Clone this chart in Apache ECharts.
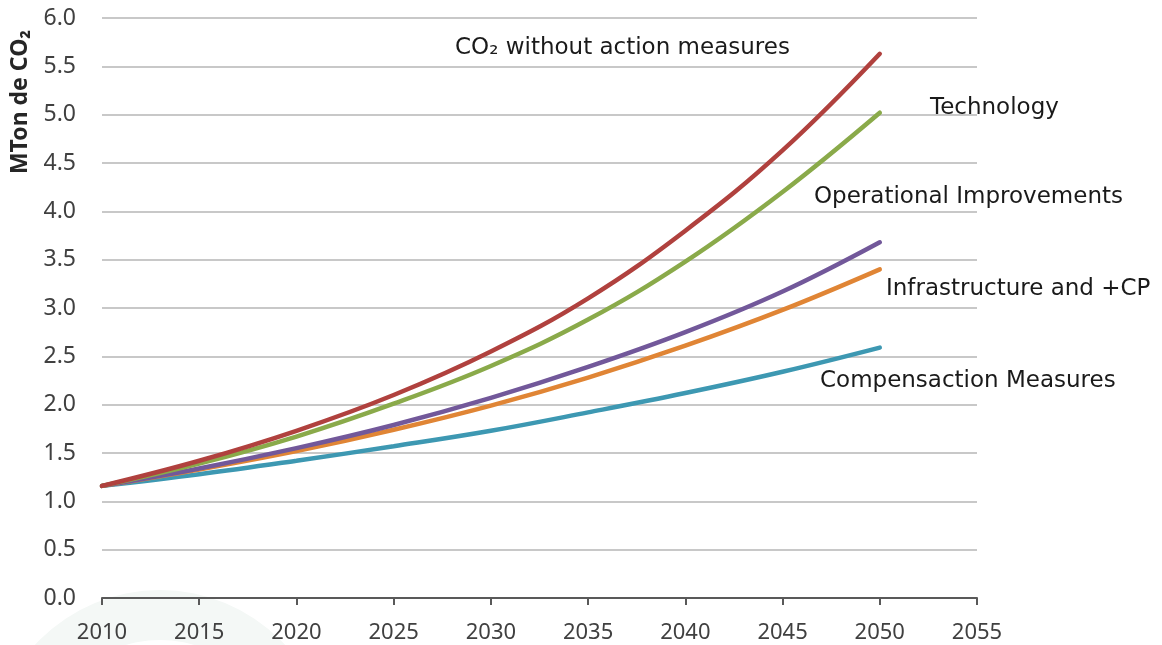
<!DOCTYPE html>
<html>
<head>
<meta charset="utf-8">
<script src="https://cdn.jsdelivr.net/npm/echarts@6/dist/echarts.min.js"></script>
<style>
  html, body { margin: 0; padding: 0; background: #fff; }
  #chart { width: 1162px; height: 645px; }
</style>
</head>
<body>
<div id="chart"></div>
<script>
const years = [2010, 2015, 2020, 2025, 2030, 2035, 2040, 2045, 2050];
const noAction = [1.16, 1.42, 1.73, 2.10, 2.55, 3.10, 3.80, 4.63, 5.63];
const technology = [1.16, 1.39, 1.67, 2.01, 2.40, 2.88, 3.48, 4.20, 5.02];
const operational = [1.16, 1.34, 1.55, 1.79, 2.07, 2.39, 2.75, 3.17, 3.68];
const infrastructure = [1.16, 1.33, 1.52, 1.74, 1.99, 2.28, 2.61, 2.98, 3.40];
const compensation = [1.16, 1.28, 1.42, 1.57, 1.73, 1.92, 2.12, 2.34, 2.59];

const seriesNames = ['CO\u2082 without action measures', 'Technology', 'Operational Improvements', 'Infrastructure and +CP', 'Compensaction Measures'];
const seriesColors = ['#b0413e', '#8aaa4a', '#72589a', '#e08535', '#3d98b2'];
const seriesData = [noAction, technology, operational, infrastructure, compensation];

const chart = echarts.init(document.getElementById('chart'));

const labelFont = '"Noto Sans", sans-serif';

// annotation labels placed beside the line ends
const notes = [
  { text: 'CO\u2082 without action measures', x: 455, y: 48 },
  { text: 'Technology', x: 930, y: 108 },
  { text: 'Operational Improvements', x: 814, y: 197 },
  { text: 'Infrastructure and +CP', x: 886, y: 289 },
  { text: 'Compensaction Measures', x: 820, y: 381 }
];

const option = {
  animation: false,
  grid: { left: 102, right: 185, top: 18, bottom: 47 },
  xAxis: {
    type: 'value',
    min: 2010,
    max: 2055,
    interval: 5,
    axisLine: { show: true, lineStyle: { color: '#595959', width: 2 } },
    axisTick: { show: true, length: 7, lineStyle: { color: '#595959', width: 2 } },
    axisLabel: {
      color: '#404040', fontSize: 22, fontFamily: labelFont, margin: 24,
      formatter: v => String(v)
    },
    splitLine: { show: false }
  },
  yAxis: {
    type: 'value',
    min: 0,
    max: 6,
    interval: 0.5,
    axisLine: { show: false },
    axisTick: { show: false },
    axisLabel: {
      color: '#404040', fontSize: 23, fontFamily: labelFont, margin: 26,
      formatter: v => v.toFixed(1)
    },
    splitLine: { lineStyle: { color: '#c8c8c8', width: 2 } }
  },
  graphic: [
    // faint background watermark
    {
      type: 'ring', z: -10, silent: true,
      shape: { cx: 160, cy: 760, r: 170, r0: 120 },
      style: { fill: '#f4f8f6' }
    },
    {
      type: 'text',
      x: 20,
      y: 102,
      rotation: Math.PI / 2,
      style: {
        text: 'MTon de CO\u2082',
        fill: '#262626',
        font: 'bold 23px "Noto Sans", sans-serif',
        align: 'center',
        verticalAlign: 'middle'
      }
    }
  ].concat(notes.map(n => ({
    type: 'text',
    x: n.x,
    y: n.y,
    style: {
      text: n.text,
      fill: '#1a1a1a',
      font: '23px "DejaVu Sans", sans-serif',
      verticalAlign: 'middle'
    }
  }))),
  series: seriesData.map((d, i) => ({
    name: seriesNames[i],
    type: 'line',
    smooth: 0.4,
    symbol: 'none',
    data: years.map((y, j) => [y, d[j]]),
    lineStyle: { color: seriesColors[i], width: 4.5, cap: 'round' },
    z: 10 - i
  }))
};

chart.setOption(option);
</script>
</body>
</html>
